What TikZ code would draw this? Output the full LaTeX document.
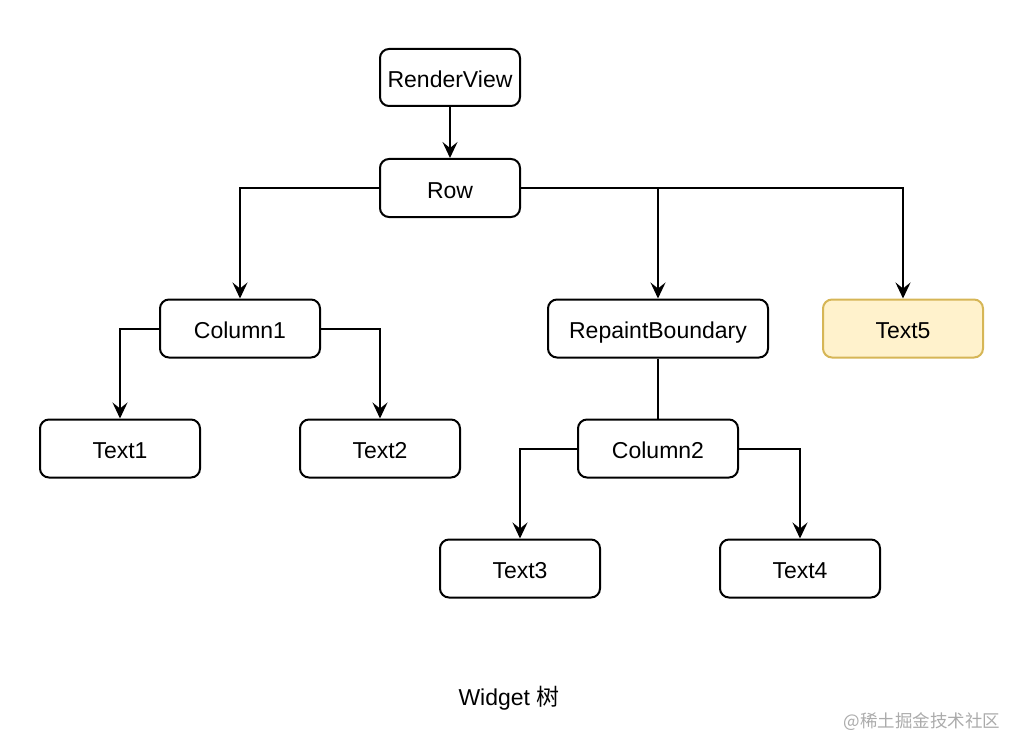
\documentclass[tikz,border=0pt]{standalone}
\usepackage{fontspec}
\setmainfont{Liberation Sans}
\newfontfamily\cjk{Noto Sans CJK SC}
\usetikzlibrary{arrows.meta}
\definecolor{yfill}{HTML}{FFF2CC}
\definecolor{ydraw}{HTML}{D6B656}
\definecolor{wm}{HTML}{ABABAB}
\begin{document}
\begin{tikzpicture}[x=1pt,y=-1pt,
  box/.style={draw=black,line width=2pt,rounded corners=9pt,fill=white,inner sep=0pt,
    minimum height=58pt,minimum width=160pt,font=\fontsize{23}{27}\selectfont,
    text height=20.5pt,text depth=0pt},
  conn/.style={line width=2pt,-{Stealth[length=16pt,width=15pt,inset=6pt]}},
  plain/.style={line width=2pt}]
\useasboundingbox (0,0) rectangle (1024,754);
\node[box,minimum width=140pt,minimum height=57pt] (rv) at (450,77.5) {RenderView};
\node[box,minimum width=140pt] (row) at (450,188) {Row};
\node[box] (c1) at (240,328.5) {Column1};
\node[box,minimum width=220pt] (rb) at (658,328.5) {RepaintBoundary};
\node[box,fill=yfill,draw=ydraw] (t5) at (903,328.5) {Text5};
\node[box] (t1) at (120,448.5) {Text1};
\node[box] (t2) at (380,448.5) {Text2};
\node[box] (c2) at (658,448.5) {Column2};
\node[box] (t3) at (520,568.5) {Text3};
\node[box] (t4) at (800,568.5) {Text4};
\node[font=\fontsize{23}{27}\selectfont,inner sep=0pt] (cap) at (509,698) {Widget {\cjk 树}};
\node[font=\cjk\fontsize{17.5}{20}\selectfont,text=wm,inner sep=0pt] (wmk) at (922,722) {@稀土掘金技术社区};
\draw[conn] (rv) -- (row);
\draw[conn] (row.west) -| (c1.north);
\draw[conn] (row.east) -| (rb.north);
\draw[conn] (row.east) -| (t5.north);
\draw[conn] (c1.west) -| (t1.north);
\draw[conn] (c1.east) -| (t2.north);
\draw[plain] (rb) -- (c2);
\draw[conn] (c2.west) -| (t3.north);
\draw[conn] (c2.east) -| (t4.north);
\end{tikzpicture}
\end{document}
